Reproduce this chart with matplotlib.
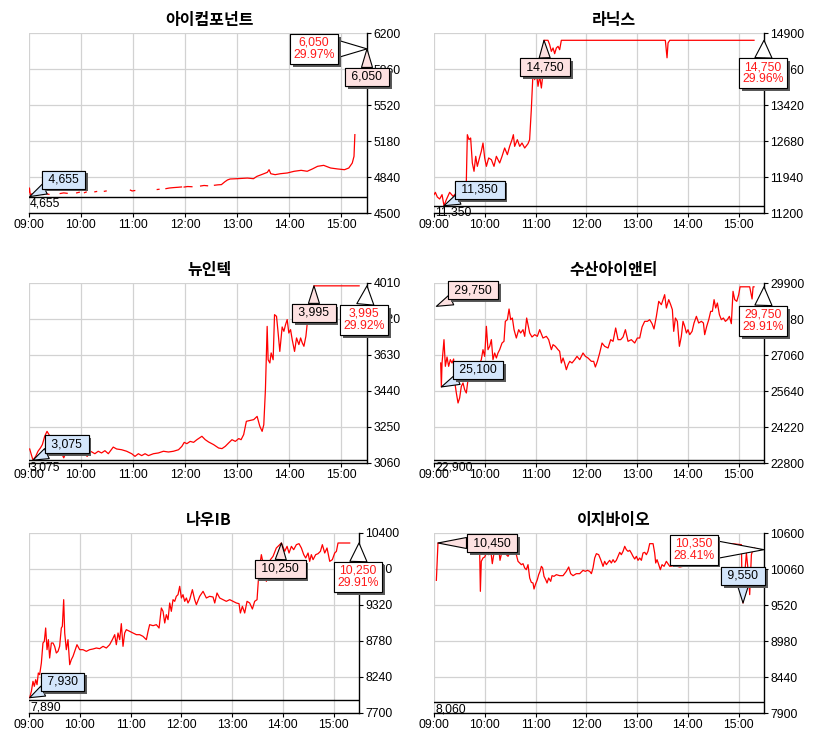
import matplotlib
matplotlib.use("Agg")
import matplotlib.pyplot as plt
import matplotlib.patheffects as pe
import numpy as np

plt.rcParams["font.family"] = ["Liberation Sans", "Noto Sans CJK KR"]

# intraday ticks: (minutes after 09:00, price), None = no trade
icom = [(0.0, 4700), (0.5, 4736), (1.5, 4672), (3, 4680), (5, 4668), (7, 4676), (7.5, None),
        (10, 4672), (13, 4680), (16, 4675), (16.5, None),
        (20, 4682), (23, 4676), (23.5, None),
        (36, 4684), (40, 4690), (44, 4686), (44.5, None),
        (55, 4690), (58, 4696), (58.5, None),
        (64, 4692), (66, 4698), (66.5, None),
        (76, 4700), (78, 4703), (78.5, None),
        (87, 4705), (89, 4708), (89.5, None),
        (117, 4716), (119, 4708), (122, 4712), (122.5, None),
        (148, 4722), (150, 4724), (150.5, None),
        (158, 4730), (162, 4736), (167, 4740), (172, 4743), (176, 4746), (176.5, None),
        (179, 4745), (183, 4750), (188, 4748), (188.5, None),
        (198, 4755), (202, 4760), (206, 4757), (206.5, None),
        (214, 4762), (218, 4766), (222, 4768), (226, 4795), (229, 4812), (232, 4821),
        (240, 4824), (252, 4830), (259, 4824), (263, 4846), (271, 4871), (275, 4884),
        (277, 4909), (279, 4871), (284, 4862), (290, 4871), (298, 4878), (306, 4894),
        (314, 4903), (321, 4894), (327, 4916), (333, 4941), (340, 4950), (348, 4925),
        (356, 4916), (364, 4909), (369, 4925), (373, 4972), (375, 5035), (376, 5240)]

lanix = [(0, 11577), (1.6, 11625), (3.9, 11529), (6.7, 11488), (9.5, 11577), (11.8, 11350),
         (14.6, 11474), (18.5, 11625), (22.5, 11543), (26.4, 11611), (32.3, 11714), (38.2, 11851),
         (39.4, 12810), (41.4, 12707), (43.3, 12742), (45.3, 12228), (47.3, 12057), (49.3, 12365),
         (51.2, 12159), (53.2, 12296), (55.9, 12468), (57.9, 12639), (59.9, 12331), (61.9, 12159),
         (64.6, 12331), (67.8, 12296), (70.9, 12159), (73.7, 12365), (77.6, 12228), (80.4, 12365),
         (83.5, 12536), (86.7, 12399), (89.4, 12570), (92.2, 12707), (93.8, 12810), (95.3, 12570),
         (98.5, 12707), (101.3, 12570), (104, 12639), (107.2, 12536), (111.1, 12625), (113, 12707),
         (115, 13324), (117, 14078), (119, 13941), (121, 14112), (122.9, 13804), (124.9, 14010),
         (126.9, 13769), (128.4, 14010), (130, 14750), (131.6, 14750), (134.7, 14750), (136.7, 14660),
         (138.7, 14523), (140.7, 14592), (142.6, 14475), (144.6, 14592), (146.6, 14626), (148.5, 14557),
         (150.5, 14750), (273.4, 14750), (275.4, 14390), (276.6, 14695), (278.6, 14750), (378.2, 14750)]

nuintek = [(0.8, 3134), (2.7, 3104), (4.6, 3075), (7.7, 3095), (10.4, 3122), (13.1, 3139),
           (15.4, 3157), (18.1, 3201), (20.8, 3227), (23.2, 3209), (25.9, 3174), (29.7, 3148),
           (33.6, 3134), (37.4, 3113), (40.1, 3087), (42.4, 3113), (45.2, 3130), (49, 3122),
           (52.9, 3104), (58.7, 3113), (64.4, 3109), (67.1, 3095), (71, 3122), (76, 3109),
           (79.9, 3122), (83.7, 3113), (87.6, 3125), (91.5, 3109), (97.2, 3144), (101.1, 3134),
           (106.9, 3130), (112.7, 3122), (118.5, 3109), (122.3, 3095), (126.2, 3109), (130, 3099),
           (133.9, 3109), (137.8, 3099), (143.6, 3109), (149.3, 3113), (155.1, 3122), (160.9, 3118),
           (166.7, 3122), (172.5, 3130), (176.4, 3148), (179.1, 3169), (182.1, 3162), (186, 3174),
           (189.9, 3169), (193.7, 3183), (199.5, 3201), (203.4, 3183), (207.2, 3171), (213, 3157),
           (218.8, 3139), (222.7, 3136), (226.5, 3148), (230.4, 3166), (234.2, 3183), (238.1, 3174),
           (242, 3189), (244.7, 3183), (247.7, 3210), (250.8, 3280), (255.5, 3285), (259.3, 3289),
           (263.2, 3306), (266.3, 3254), (269, 3227), (270.9, 3262), (272.8, 3447), (274.8, 3781),
           (275.9, 3605), (277.9, 3588), (279.4, 3641), (281.7, 3605), (283.3, 3843), (285.6, 3834),
           (287.1, 3764), (289.4, 3649), (292.1, 3778), (294.1, 3755), (296, 3790), (297.9, 3817),
           (299.8, 3746), (301.8, 3764), (303.7, 3711), (306.4, 3649), (308.7, 3720), (311.4, 3685),
           (313.4, 3720), (315.3, 3694), (317.2, 3676), (319.5, 3729), (321.1, 3799), (323, 3817),
           (328.8, 3995), (380.9, 3995)]

soosan = [(7.9, 26745), (8.7, 25800), (9.5, 26745), (11.8, 27665), (13.4, 26613), (15.4, 26981),
          (17.3, 26613), (19.3, 26876), (21.3, 26745), (23.2, 26903), (24.4, 26021), (26.4, 25561),
          (28.4, 25167), (30.3, 25364), (32.3, 25824), (34.3, 25955), (36.2, 25693), (38.2, 25561),
          (40.2, 26087), (42.2, 26284), (44.1, 26679), (46.1, 26350), (48.1, 26481), (50, 26021),
          (52, 26547), (55.9, 26876), (57.9, 27270), (59.9, 27007), (61.9, 28191), (63.8, 27270),
          (65.8, 27402), (67.8, 27665), (69.7, 26876), (71.7, 27139), (73.7, 26942), (75.6, 27139),
          (77.6, 27270), (80.4, 27533), (82.7, 27599), (84.3, 28388), (86.7, 28454), (88.7, 28874),
          (90.6, 28454), (92.6, 28519), (94.6, 28059), (97.3, 27730), (100.1, 28059), (102.4, 27928),
          (105.2, 28059), (107.2, 27796), (109.5, 28519), (111.1, 28257), (113.1, 27928), (115.8, 27770),
          (119, 27862), (122.1, 27796), (124.9, 28059), (128.8, 27730), (132.8, 27796), (135.5, 27665),
          (138.7, 27270), (140.7, 27468), (143.4, 27402), (146.6, 27270), (148.5, 27205), (150.5, 26745),
          (152.5, 26942), (154.4, 26745), (156.4, 26481), (158.4, 26679), (160.4, 26810), (163.1, 26745),
          (166.3, 26876), (169, 27007), (172.2, 26876), (176.1, 27139), (178.9, 27007), (182, 26942),
          (186, 26810), (188.7, 26810), (190.7, 26587), (193.1, 26810), (195.8, 27139), (198.6, 27533),
          (201.7, 27402), (205.7, 27336), (208.8, 27665), (211.6, 27599), (214.7, 28125), (217.5, 27665),
          (220.6, 27665), (223.4, 27770), (226.2, 28059), (229.3, 27599), (233.2, 27665), (237.2, 27533),
          (240.3, 27730), (243.1, 27730), (245.9, 28165), (249, 28388), (252.2, 28388), (254.9, 28454),
          (257.7, 28296), (260, 28086), (262.8, 28585), (265.6, 29177), (268.7, 29045), (270.7, 29243),
          (272.6, 29440), (274.6, 28914), (277.4, 29243), (279.7, 29045), (281.7, 28848), (283.3, 27993),
          (285.3, 28519), (287.6, 28388), (290, 27402), (292.3, 27796), (294.3, 28388), (296.3, 28191),
          (298.3, 27928), (300.2, 28059), (302.2, 27862), (305, 27993), (307.3, 28322), (310.1, 28585),
          (312.8, 28322), (316, 28388), (318.4, 28322), (319.9, 27862), (322.3, 28191), (324.7, 28454),
          (327, 28782), (329, 28782), (331, 29243), (332.9, 28914), (334.9, 29111), (337.3, 28651),
          (339.6, 28454), (342, 28519), (344.4, 28388), (346.7, 28454), (349.1, 28585), (351.4, 28296),
          (353.4, 29571), (355.4, 29243), (357.8, 29177), (360.1, 29440), (361.7, 29750), (367.2, 29750),
          (373.1, 29750), (375.9, 29269), (377.1, 29750), (378.2, 29750)]

nauib = [(0.8, 7930), (2.8, 8025), (4.7, 8175), (6.3, 8100), (7.9, 8200), (9.5, 8125), (11, 8300),
         (12.6, 8275), (14.6, 8450), (16.5, 8750), (18.1, 8775), (19.7, 8975), (21.3, 8650), (22.9, 8800),
         (24.4, 8525), (26.4, 8750), (28.4, 8750), (30.3, 8700), (32.3, 8600), (34.3, 8625), (36.2, 8700),
         (38.2, 8975), (39.4, 9000), (41, 9400), (42.2, 8900), (44.1, 8650), (46.1, 8800), (48.1, 8425),
         (50, 8500), (52, 8550), (54, 8625), (56.7, 8725), (59.9, 8650), (63.8, 8650), (67.8, 8625),
         (71.7, 8650), (75.6, 8660), (79.6, 8675), (83.5, 8665), (87.5, 8700), (91.4, 8675), (95.3, 8725),
         (98.5, 8800), (101.3, 8875), (103.2, 8725), (105.2, 8900), (107.2, 8800), (109.1, 9040),
         (111.1, 8700), (113.1, 8900), (115, 8950), (119, 8925), (122.9, 8900), (126.9, 8875),
         (130.8, 8875), (134.7, 8850), (138.7, 8800), (140.7, 8925), (142.6, 9025), (146.6, 9010),
         (150.5, 9025), (153.7, 8975), (156.4, 9275), (158.4, 9225), (160.4, 9050), (162.3, 9175),
         (164.3, 9100), (166.3, 9350), (168.2, 9225), (170.2, 9400), (172.2, 9375), (174.1, 9450),
         (176.1, 9475), (178.1, 9600), (180.1, 9425), (182, 9475), (184, 9375), (186, 9425),
         (187.9, 9350), (189.9, 9400), (193.1, 9550), (195.8, 9400), (197.8, 9325), (201.7, 9450),
         (205.7, 9525), (209.6, 9425), (213.5, 9450), (217.5, 9440), (219.5, 9350), (222.2, 9500),
         (225.4, 9425), (229.3, 9400), (233.2, 9375), (237.2, 9400), (241.1, 9375), (245.1, 9350),
         (248.2, 9340), (249.8, 9200), (252.2, 9300), (254.9, 9200), (257.7, 9375), (260.8, 9350),
         (264, 9260), (266.7, 9375), (269.5, 9400), (271.1, 9700), (272.6, 9900), (274.6, 10075),
         (276.6, 9950), (278.6, 9850), (280.5, 9675), (282.5, 9900), (285.3, 10000), (288.4, 10050),
         (292.3, 10175), (298.3, 10250), (302.2, 10125), (305, 10200), (307.3, 10100), (310.1, 10200),
         (312.8, 10150), (316, 10225), (319.1, 10240), (321.9, 10175), (324.7, 10075), (327, 10025),
         (329.8, 10100), (331.7, 9975), (333.7, 10075), (335.7, 10000), (338.8, 10075), (341.6, 10090),
         (344.4, 10125), (346.7, 10225), (349.5, 10100), (352.2, 10175), (355.4, 9975), (358.5, 10000),
         (361.3, 10100), (363.3, 10125), (365.2, 10250), (371.1, 10250), (379, 10250)]

easybio = [(2.8, 9890), (4.7, 10450), (52, 10450), (54, 10300), (54.8, 9725), (55.9, 10175),
           (57.9, 10225), (59.9, 10240), (61.9, 10300), (64.6, 10275), (67, 10350), (68.9, 10140),
           (70.9, 10300), (73.7, 10350), (76.4, 10375), (78, 10190), (80.4, 10325), (82.7, 10300),
           (85.5, 10275), (87.5, 10250), (89.4, 10300), (91.4, 10325), (93.4, 10350), (95.3, 10310),
           (97.3, 10275), (99.3, 10175), (101.3, 10150), (103.2, 10125), (105.2, 10140), (107.2, 10075),
           (109.1, 10050), (111.1, 10125), (113.1, 9925), (115, 9860), (117, 9850), (118.2, 9760),
           (119.8, 9825), (122.1, 9900), (123.7, 9975), (125.3, 10025), (126.9, 10100), (128.4, 10075),
           (130, 9950), (132, 9900), (133.6, 9850), (135.5, 9925), (137.9, 9875), (139.5, 9960),
           (141.8, 9950), (144.6, 9975), (148.5, 9960), (152.5, 9960), (156.4, 10025), (159.2, 10090),
           (161.5, 9990), (164.3, 9960), (168.2, 9990), (172.2, 9990), (176.1, 10040), (178.9, 10025),
           (181.2, 10040), (184, 10025), (186, 9990), (187.9, 10075), (189.9, 10225), (191.9, 10290),
           (194.6, 10275), (197, 10200), (199.8, 10100), (201.7, 10175), (203.7, 10125), (205.7, 10160),
           (207.6, 10190), (209.6, 10150), (211.6, 10200), (213.5, 10160), (215.5, 10190), (217.5, 10250),
           (219.5, 10310), (221.4, 10275), (223.4, 10325), (225.4, 10400), (227.3, 10350), (229.3, 10325),
           (231.3, 10340), (233.2, 10300), (235.2, 10250), (237.2, 10210), (239.2, 10250), (241.1, 10190),
           (243.1, 10225), (245.1, 10190), (247, 10300), (249, 10310), (251, 10275), (252.9, 10325),
           (254.9, 10440), (258.9, 10440), (260.8, 10300), (262, 10150), (263.6, 10200), (265.6, 10125),
           (267.5, 10050), (269.5, 10125), (271.9, 10100), (274.6, 10175), (278.6, 10100), (284.5, 10110),
           (290.4, 10090), (294.3, 10100), (296.3, 10125), (302.2, 10250), (312, 10350), (323.9, 10400),
           (335.7, 10440), (351.4, 10440), (363.3, 10425), (364, 9850), (365.2, 9550), (366.4, 9850),
           (369.2, 10300), (371.9, 9950), (373.1, 9675), (375.1, 10275), (377.1, 10360), (379, 10375)]

names = ["아이컴포넌트", "라닉스", "뉴인텍", "수산아이앤티", "나우IB", "이지바이오"]
series = [icom, lanix, nuintek, soosan, nauib, easybio]
prev_close = [4655, 11350, 3075, 22900, 7890, 8060]
y_min = [4500, 11200, 3060, 22800, 7700, 7900]
y_max = [6200, 14900, 4010, 29900, 10400, 10600]
highs = [6050, 14750, 3995, 29750, 10250, 10450]
high_at = [(390, 6050), (130, 14750), (328.8, 3995), (2.8, 28980), (298.3, 10250), (4.7, 10450)]
lows = [4655, 11350, 3075, 25100, 7930, 9550]
low_at = [(0.8, 4655), (11.8, 11350), (4.6, 3075), (8.7, 25800), (0.8, 7930), (365.2, 9550)]
closes = [6050, 14750, 3995, 29750, 10250, 10350]
change_pct = [29.97, 29.96, 29.92, 29.91, 29.91, 28.41]
hour_labels = ["09:00", "10:00", "11:00", "12:00", "13:00", "14:00", "15:00"]

# layout in pixels: left, top, width (height 180)
panels = [(29, 33, 338), (434, 33, 330), (29, 283, 338),
          (434, 283, 330), (29, 533, 330), (434, 533, 330)]
# callout box offsets (px) from the tip: low, high, last
off_low = [(34, 17), (36, 16), (34, 16), (37, 17), (33, 16), (0, 27)]
off_high = [(0, -28), (1, -27), (0, -27), (37, 16), (-1, -26), (54, 0)]
off_last = [(-53, 0), (-1, -33), (-3, -34), (-1, -34), (-1, -34), (-70, 0)]

BLUE = "#d4e6fb"
PINK = "#fde1e1"
FS = 8.8


def callout(ax, xy, text, offset, fc, color="black", tail=0.9):
    ann = ax.annotate(text, xy=xy, xytext=offset, textcoords="offset pixels",
                      ha="center", va="center", fontsize=FS, color=color,
                      linespacing=1.0, zorder=10, annotation_clip=False,
                      bbox=dict(boxstyle="square,pad=0.25", fc=fc, ec="black", lw=0.8),
                      arrowprops=dict(arrowstyle=f"wedge,tail_width={tail},shrink_factor=0.5",
                                      fc=fc, ec="black", lw=0.8, shrinkA=0, shrinkB=0))
    ann.get_bbox_patch().set_path_effects(
        [pe.withSimplePatchShadow(offset=(2, -2), shadow_rgbFace="0.35", alpha=1.0), pe.Normal()])
    return ann


fig = plt.figure(figsize=(8.33, 7.4), dpi=100)

for i in range(6):
    left, top, w = panels[i]
    ax = fig.add_axes([left / 833, 1 - (top + 180) / 740, w / 833, 180 / 740])

    data = np.array(series[i], dtype=float)
    ax.plot(data[:, 0], data[:, 1], color="#ff0000", lw=0.9, zorder=4)

    ax.axhline(prev_close[i], color="black", lw=1.0, zorder=5)
    ax.annotate(f"{prev_close[i]:,}", xy=(0, prev_close[i]), xytext=(1, -1),
                textcoords="offset pixels", ha="left", va="top", fontsize=FS,
                annotation_clip=False, zorder=6)

    ax.set_xlim(0, 390)
    ax.set_ylim(y_min[i], y_max[i])
    ax.set_xticks(np.arange(0, 361, 60))
    ax.set_xticklabels(hour_labels)
    ax.set_yticks(np.linspace(y_min[i], y_max[i], 6))
    ax.set_yticklabels([f"{v:.0f}" for v in np.linspace(y_min[i], y_max[i], 6)])
    ax.yaxis.tick_right()
    ax.tick_params(labelsize=FS, length=3, width=0.8, pad=1.5, colors="black")

    ax.grid(True, color="#d2d2d2", lw=0.9)
    ax.set_axisbelow(True)
    for s in ("top", "left"):
        ax.spines[s].set_visible(False)
    for s in ("right", "bottom"):
        ax.spines[s].set_linewidth(1.0)

    shift = 12 if w > 335 else 15
    ax.set_title(names[i], fontfamily="Noto Sans CJK KR", fontweight="bold",
                 fontsize=11.5, x=0.5 + shift / w, pad=6)

    callout(ax, low_at[i], f" {lows[i]:,} ", off_low[i], BLUE)
    callout(ax, high_at[i], f" {highs[i]:,} ", off_high[i], PINK)
    callout(ax, (390, closes[i]), f"{closes[i]:,}\n{change_pct[i]:.2f}%",
            off_last[i], "white", color="#ff1a1a", tail=1.4)

fig.savefig("out.png", dpi=100, facecolor="white")
